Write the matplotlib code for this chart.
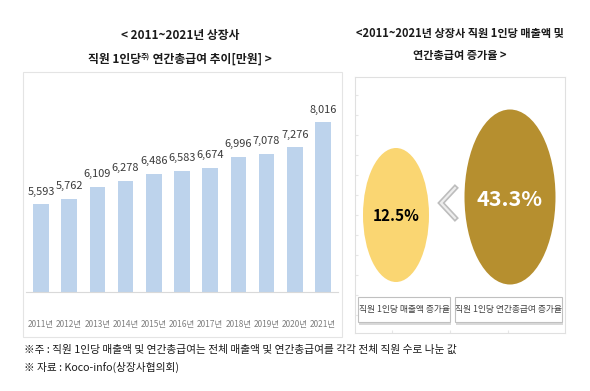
import matplotlib.pyplot as plt
from matplotlib.patches import Rectangle, Ellipse
from matplotlib.offsetbox import TextArea, HPacker, AnnotationBbox

plt.rcParams['font.family'] = ['Noto Sans CJK KR', 'DejaVu Sans']

# data
years = ['2011', '2012', '2013', '2014', '2015', '2016', '2017', '2018', '2019', '2020', '2021']
salary = [5593, 5762, 6109, 6278, 6486, 6583, 6674, 6996, 7078, 7276, 8016]
rate_labels = ['직원 1인당 매출액 증가율', '직원 1인당 연간총급여 증가율']
rates = [12.5, 43.3]

W, H = 590, 391
fig = plt.figure(figsize=(W / 100, H / 100), dpi=100)
fig.patch.set_facecolor('white')


def px(x, y):
    # pixel (from top-left) -> figure fraction
    return x / W, 1 - y / H


# ---------------- left panel ----------------
fig.patches.append(Rectangle(px(23, 337), 319 / W, 265 / H, transform=fig.transFigure,
                             facecolor='white', edgecolor='#e4e4e4', lw=0.8, zorder=-5))

ax = fig.add_axes([25.5 / W, (H - 292) / H, 313 / W, 189.5 / H])
ax.set_zorder(2)
x = range(len(years))
ax.bar(x, salary, width=0.55, color='#bdd3ec')
ax.set_xlim(-0.55, 10.55)
ax.set_ylim(3000, 8600)
for s in ['top', 'left', 'right']:
    ax.spines[s].set_visible(False)
ax.spines['bottom'].set_color('#d9d9d9')
ax.set_yticks([])
ax.set_xticks(list(x))
ax.set_xticklabels([y + '년' for y in years], fontsize=6, color='#7f7f7f')
ax.tick_params(axis='x', length=0, pad=20)
ax.patch.set_alpha(0)
for xi, v in zip(x, salary):
    ax.annotate(f'{v:,}', (xi, v), xytext=(0, 5.5), textcoords='offset points',
                ha='center', va='bottom', fontsize=7.9, fontweight='medium', color='#3a3a3a')

# left title
fig.text(*px(180, 35), '< 2011~2021년 상장사', ha='center', va='center',
         fontsize=8.5, fontweight='bold', color='#1a1a1a')
tp = dict(fontsize=8.5, fontweight='bold', color='#1a1a1a')
line2 = HPacker(children=[TextArea('직원 1인당', textprops=tp),
                          TextArea('주)', textprops=dict(fontsize=5, fontweight='bold', color='#1a1a1a')),
                          TextArea(' 연간총급여 추이[만원] >', textprops=tp)],
                align='top', pad=0, sep=0)
fig.add_artist(AnnotationBbox(line2, px(180, 59), xycoords='figure fraction', frameon=False))

# ---------------- right panel ----------------
axr = fig.add_axes([355 / W, (H - 333) / H, 210 / W, 256 / H])
axr.set_xlim(355, 565)
axr.set_ylim(333, 77)
for s in axr.spines.values():
    s.set_color('#e0e0e0')
axr.set_xticks([392, 450, 508])
axr.set_yticks(range(95, 333, 20))
axr.tick_params(direction='in', length=2, color='#e6e6e6', labelbottom=False, labelleft=False)

axr.add_patch(Ellipse((396, 215), 66, 134, facecolor='#fad672', edgecolor='none'))
axr.add_patch(Ellipse((510, 197), 91, 175, facecolor='#b68f2f', edgecolor='none'))
axr.text(396, 216, f'{rates[0]}%', ha='center', va='center', fontsize=11,
         fontweight='bold', color='black')
axr.text(510, 199, f'{rates[1]}%', ha='center', va='center', fontsize=15.5,
         fontweight='bold', color='white')

# chevron "<"
axr.plot([455, 441, 455], [188, 203, 218], color='#bdbdbd', lw=4, solid_joinstyle='miter')
axr.plot([455, 441, 455], [188, 203, 218], color='#ededed', lw=1.6, solid_joinstyle='miter')

# label boxes
for (x0, x1), lab in zip([(358, 450), (455, 562)], rate_labels):
    axr.add_patch(Rectangle((x0 + 1.5, 299.5), x1 - x0, 25, facecolor='#d9d9d9',
                            edgecolor='none', zorder=2))
    axr.add_patch(Rectangle((x0, 297), x1 - x0, 25, facecolor='white',
                            edgecolor='#c0c0c0', lw=0.8, zorder=3))
    axr.text((x0 + x1) / 2, 309.5, lab, ha='center', va='center', fontsize=6.3,
             color='#404040', zorder=4)

# right title
fig.text(*px(460, 33), '<2011~2021년 상장사 직원 1인당 매출액 및', ha='center', va='center',
         fontsize=8, fontweight='bold', color='#1a1a1a')
fig.text(*px(460, 55), '연간총급여 증가율 >', ha='center', va='center',
         fontsize=8, fontweight='bold', color='#1a1a1a')

# footnotes
fig.text(*px(24, 350), '※주 : 직원 1인당 매출액 및 연간총급여는 전체 매출액 및 연간총급여를 각각 전체 직원 수로 나눈 값',
         ha='left', va='center', fontsize=7.7, color='#1a1a1a')
fig.text(*px(24, 367), '※ 자료 : Koco-info(상장사협의회)',
         ha='left', va='center', fontsize=7.7, color='#1a1a1a')

fig.savefig('out.png', dpi=100)
